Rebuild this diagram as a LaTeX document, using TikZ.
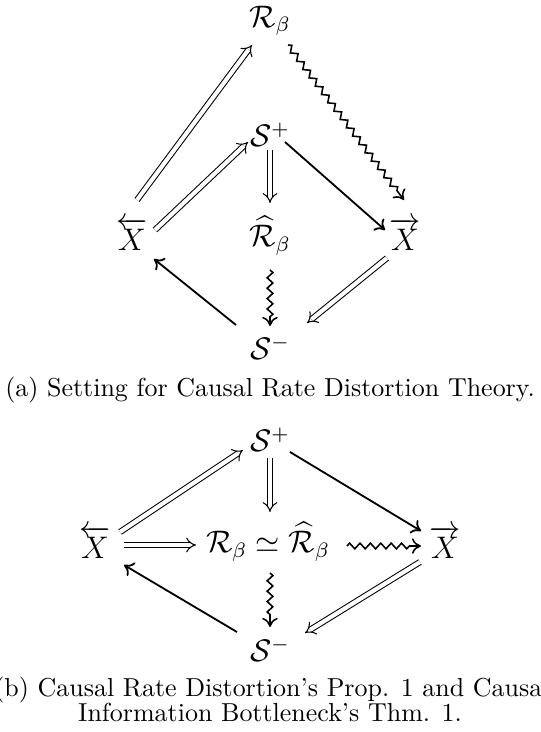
\documentclass[tikz,border=0pt]{standalone}
\usepackage{amsmath,amssymb}
\usetikzlibrary{arrows.meta,decorations.pathmorphing}
\begin{document}
\begin{tikzpicture}[x=0.385pt,y=-0.385pt,
  obj/.style={inner sep=0pt,font=\large},
  captext/.style={inner sep=0pt,font=\normalsize},
  dbl/.style={double,double distance=1.6pt,line width=0.4pt,-{Implies[length=4pt]}},
  sgl/.style={line width=0.7pt,-{To[length=3.5pt,width=6pt]}},
  sq/.style={line width=0.6pt,-{To[length=3.5pt,width=6pt]},decorate,decoration={zigzag,segment length=4pt,amplitude=1.1pt,post length=3pt}}]
\useasboundingbox (0,0) rectangle (540,732);
% top diagram
\node[obj] (R) at (270,21) {$\mathcal{R}_\beta$};
\node[obj] (Sp) at (270,135) {$\mathcal{S}^+$};
\node[obj] (Xl) at (132,234) {$\overleftarrow{X}$};
\node[obj] (Rh) at (270,236) {$\widehat{\mathcal{R}}_\beta$};
\node[obj] (Xr) at (405,234) {$\overrightarrow{X}$};
\node[obj] (Sm) at (270,348) {$\mathcal{S}^-$};
\node[captext] (ca) at (270,390) {(a) Setting for Causal Rate Distortion Theory.};
\coordinate (a1) at (137,200); \coordinate (a2) at (252,45);
\draw[dbl] (a1) -- (a2);
\coordinate (b1) at (155,230); \coordinate (b2) at (248,142);
\draw[dbl] (b1) -- (b2);
\coordinate (c1) at (270,150); \coordinate (c2) at (270,203);
\draw[dbl] (c1) -- (c2);
\coordinate (d1) at (285,142); \coordinate (d2) at (385,230);
\draw[sgl] (d1) -- (d2);
\coordinate (e1) at (288,45); \coordinate (e2) at (404,200);
\draw[sq] (e1) -- (e2);
\coordinate (f1) at (270,270); \coordinate (f2) at (270,326);
\draw[sq] (f1) -- (f2);
\coordinate (g1) at (387,258); \coordinate (g2) at (307,323);
\draw[dbl] (g1) -- (g2);
\coordinate (h1) at (236,325); \coordinate (h2) at (154,259);
\draw[sgl] (h1) -- (h2);
% bottom diagram
\node[obj] (Sp2) at (270,440) {$\mathcal{S}^+$};
\node[obj] (Xl2) at (95,542) {$\overleftarrow{X}$};
\node[obj] (C2) at (268,542) {$\mathcal{R}_\beta \simeq \widehat{\mathcal{R}}_\beta$};
\node[obj] (Xr2) at (445,542) {$\overrightarrow{X}$};
\node[obj] (Sm2) at (270,650) {$\mathcal{S}^-$};
\node[captext] (cb1) at (272,690) {(b) Causal Rate Distortion's Prop. 1 and Causal};
\node[captext] (cb2) at (270,712) {Information Bottleneck's Thm. 1.};
\coordinate (i1) at (120,532); \coordinate (i2) at (243,450);
\draw[dbl] (i1) -- (i2);
\coordinate (j1) at (124,545); \coordinate (j2) at (196,545);
\draw[dbl] (j1) -- (j2);
\coordinate (k1) at (270,458); \coordinate (k2) at (270,512);
\draw[dbl] (k1) -- (k2);
\coordinate (l1) at (290,452); \coordinate (l2) at (421,531);
\draw[sgl] (l1) -- (l2);
\coordinate (m1) at (347,546); \coordinate (m2) at (421,546);
\draw[sq] (m1) -- (m2);
\coordinate (n1) at (270,573); \coordinate (n2) at (270,627);
\draw[sq] (n1) -- (n2);
\coordinate (o1) at (420,562); \coordinate (o2) at (305,633);
\draw[dbl] (o1) -- (o2);
\coordinate (p1) at (237,632); \coordinate (p2) at (124,565);
\draw[sgl] (p1) -- (p2);
\end{tikzpicture}
\end{document}
